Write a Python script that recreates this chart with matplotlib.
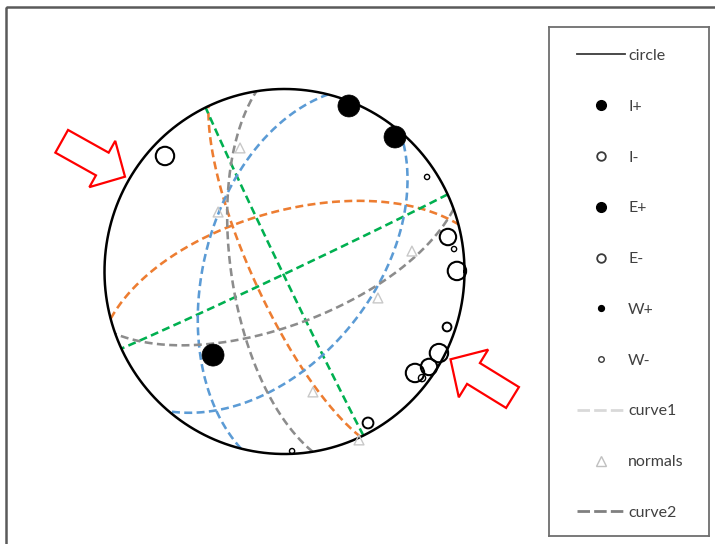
import numpy as np
import matplotlib
matplotlib.use("Agg")
import matplotlib.pyplot as plt
from matplotlib.lines import Line2D
from matplotlib.patches import FancyArrow, Rectangle

plt.rcParams["font.family"] = ["Lato", "DejaVu Sans"]

# Planes (equal-area, lower hemisphere): dip direction and dip in degrees
plane_dipdir = [245, 345, 244, 155, 284, 130, 261, 160]
plane_dip = [76, 63, 89, 89, 53, 51, 66, 66]
plane_colors = ["#ED7D31", "#ED7D31", "#00B050", "#00B050",
                "#5B9BD5", "#5B9BD5", "#8C8C8C", "#8C8C8C"]

# Plotted observations in net coordinates (unit circle) and their sizes
ip_x = [0.358, 0.614, -0.397]
ip_y = [0.907, 0.737, -0.458]
ip_size = [11, 11, 11]

im_x = [-0.664, 0.908, 0.958, 0.858, 0.803, 0.725]
im_y = [0.633, 0.189, 0.003, -0.447, -0.523, -0.556]
im_size = [10, 9, 10, 10, 9, 10]

em_x = [0.903, 0.464]
em_y = [-0.304, -0.830]
em_size = [5, 6]

wm_x = [0.792, 0.942, 0.764, 0.042]
wm_y = [0.518, 0.123, -0.584, -0.984]
wm_size = [3, 3, 4, 3]

# Plane normals in net coordinates
normal_x = [-0.247, -0.369, 0.708, 0.519, 0.158, 0.414]
normal_y = [0.677, 0.326, 0.112, -0.145, -0.660, -0.923]

legend_labels = ["circle", "I+", "I-", "E+", "E-", "W+", "W-",
                 "curve1", "normals", "curve2"]


def great_circle(dipdir, dip, n=241):
    """Equal-area projection of a plane given by dip direction / dip."""
    dd = np.radians(dipdir)
    d = np.radians(dip)
    s = dd - np.pi / 2
    sv = np.array([np.sin(s), np.cos(s), 0.0])
    dv = np.array([np.cos(d) * np.sin(dd), np.cos(d) * np.cos(dd), -np.sin(d)])
    t = np.linspace(0, np.pi, n)
    v = np.cos(t)[:, None] * sv + np.sin(t)[:, None] * dv
    e, nn, z = v.T
    plunge = np.arcsin(np.clip(-z, -1, 1))
    trend = np.arctan2(e, nn)
    r = np.sqrt(2) * np.sin((np.pi / 2 - plunge) / 2)
    return r * np.sin(trend), r * np.cos(trend)


def px_radius_to_s(r):
    return (2 * np.asarray(r, float) * 0.72) ** 2


W, H = 715, 544
fig = plt.figure(figsize=(W / 100, H / 100), dpi=100)
fig.patch.set_facecolor("white")

# --- the net ---
cx, cy, rx, ry, lim = 284.5, 271.5, 180.0, 182.5, 1.05
ax = fig.add_axes([(cx - lim * rx) / W, (H - cy - lim * ry) / H,
                   2 * lim * rx / W, 2 * lim * ry / H])
ax.set_xlim(-lim, lim)
ax.set_ylim(-lim, lim)
ax.axis("off")

for dd, dp, col in zip(plane_dipdir, plane_dip, plane_colors):
    gx, gy = great_circle(dd, dp)
    ax.plot(gx, gy, color=col, lw=1.85, dashes=(3.1, 1.7), zorder=2)

th = np.linspace(0, 2 * np.pi, 400)
ax.plot(np.cos(th), np.sin(th), color="black", lw=1.8, zorder=3)

ax.scatter(normal_x, normal_y, s=50, marker="^", facecolors="none",
           edgecolors="#C8C8C8", linewidths=1.0, zorder=4)
ax.scatter(ip_x, ip_y, s=px_radius_to_s(ip_size), color="black",
           edgecolors="black", linewidths=0.5, zorder=5)
ax.scatter(im_x, im_y, s=px_radius_to_s(np.array(im_size) - 0.8),
           facecolors="none", edgecolors="black", linewidths=1.5, zorder=5)
ax.scatter(em_x, em_y, s=px_radius_to_s(np.array(em_size) - 0.6),
           facecolors="none", edgecolors="black", linewidths=1.4, zorder=5)
ax.scatter(wm_x, wm_y, s=px_radius_to_s(np.array(wm_size) - 0.4),
           facecolors="none", edgecolors="black", linewidths=1.0, zorder=5)

# --- overlay in pixel units: chart frame and pointer arrows ---
ov = fig.add_axes([0, 0, 1, 1])
ov.set_xlim(0, W)
ov.set_ylim(H, 0)
ov.axis("off")
ov.add_patch(Rectangle((6, 7), W + 20, H + 20, fill=False,
                       ec="#5A5A5A", lw=1.8))
ov.add_patch(FancyArrow(61.7, 141.3, 63.3, 35.4, width=26, head_width=53,
                        head_length=26, length_includes_head=True,
                        fc="white", ec="#FF0000", lw=1.6))
ov.add_patch(FancyArrow(512.5, 397.5, -62.0, -38.2, width=24.5,
                        head_width=56, head_length=27,
                        length_includes_head=True,
                        fc="white", ec="#FF0000", lw=1.6))

# --- legend box ---
lax = fig.add_axes([549 / W, (H - 536) / H, 160 / W, 509 / H])
lax.set_xticks([])
lax.set_yticks([])
for sp in lax.spines.values():
    sp.set_color("#6E6E6E")
    sp.set_linewidth(1.3)

open_kw = dict(ls="none", marker="o", mfc="white", mec="#3A3A3A")
fill_kw = dict(ls="none", marker="o", mfc="black", mec="black")
handles = [
    Line2D([], [], color="#3A3A3A", lw=1.3),
    Line2D([], [], ms=7, **fill_kw),
    Line2D([], [], ms=6.2, mew=1.3, **open_kw),
    Line2D([], [], ms=7, **fill_kw),
    Line2D([], [], ms=6.2, mew=1.3, **open_kw),
    Line2D([], [], ms=4.2, **fill_kw),
    Line2D([], [], ms=4.0, mew=1.0, **open_kw),
    Line2D([], [], color="#D9D9D9", lw=2.0, dashes=(4.5, 1.5)),
    Line2D([], [], ls="none", marker="^", ms=7.5, mfc="white",
           mec="#C0C0C0", mew=1.0),
    Line2D([], [], color="#808080", lw=2.0, dashes=(4.5, 1.5)),
]
leg = lax.legend(handles, legend_labels, loc="upper left",
                 bbox_to_anchor=(0.175, 0.957), frameon=False,
                 borderpad=0, borderaxespad=0, handlelength=3.0,
                 handletextpad=0.2, labelspacing=2.29, fontsize=11.5)
for txt in leg.get_texts():
    txt.set_color("#404040")

fig.savefig("out.png", dpi=100)
